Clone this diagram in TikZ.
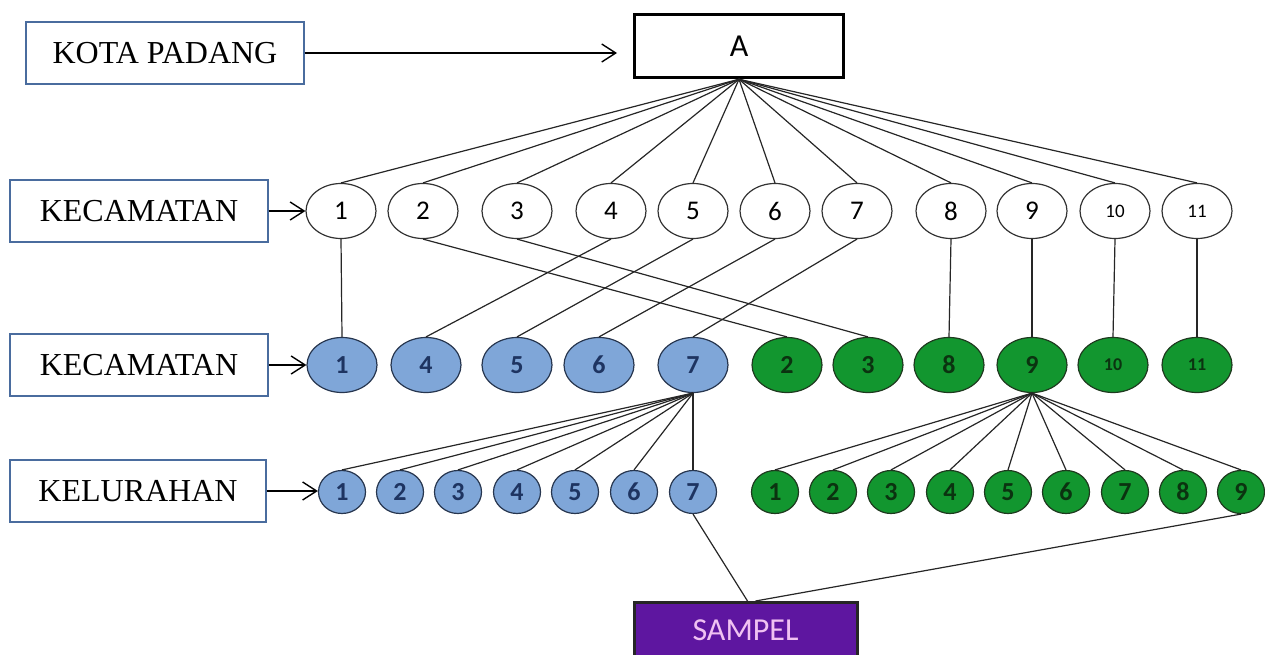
\documentclass[tikz,border=0pt]{standalone}
\usepackage{fontspec}
\setmainfont{Liberation Serif}
\newfontfamily\calfont{Carlito}
\usetikzlibrary{shapes.geometric,arrows.meta}
\definecolor{labelframe}{HTML}{4A6C9E}
\definecolor{bluefill}{HTML}{7FA6D8}
\definecolor{bluetext}{HTML}{1E3461}
\definecolor{blueline}{HTML}{27364F}
\definecolor{greenfill}{HTML}{12962F}
\definecolor{greentext}{HTML}{0B3310}
\definecolor{greenline}{HTML}{1F3A1F}
\definecolor{sampelfill}{HTML}{5E16A0}
\definecolor{sampeltext}{HTML}{F0C2F2}
\tikzset{
  x=1pt, y=-1pt,
  labelbox/.style={draw=labelframe, line width=1.2pt, minimum width=258pt, minimum height=62pt,
    inner sep=0pt, font=\fontsize{32}{36}\selectfont},
  pointer/.style={line width=1.4pt, -{Straight Barb[length=14pt,width=18pt,line width=1.4pt]}},
  link/.style={line width=1.2pt, black!85},
  topnode/.style={ellipse, draw=black!80, line width=1.2pt, fill=white, minimum width=70pt,
    minimum height=55pt, inner sep=0pt, font=\calfont\fontsize{27}{29}\selectfont},
  smallnum/.style={font=\calfont\fontsize{19}{21}\selectfont},
  bluebig/.style={ellipse, draw=blueline, line width=1.2pt, fill=bluefill, minimum width=70pt,
    minimum height=55pt, inner sep=0pt, text=bluetext, font=\calfont\bfseries\fontsize{26}{28}\selectfont},
  greenbig/.style={ellipse, draw=greenline, line width=1.2pt, fill=greenfill, minimum width=70pt,
    minimum height=55pt, inner sep=0pt, text=greentext, font=\calfont\bfseries\fontsize{26}{28}\selectfont},
  bluesmall/.style={bluebig, minimum width=47pt, minimum height=43pt},
  greensmall/.style={greenbig, minimum width=47pt, minimum height=43pt},
}
\begin{document}
\begin{tikzpicture}
\useasboundingbox (0,0) rectangle (1265,655);

% side labels
\node[labelbox, minimum width=278pt] (kota) at (165,53) {KOTA PADANG};
\node[labelbox] (kec1) at (139,211) {KECAMATAN};
\node[labelbox] (kec2) at (139,365) {KECAMATAN};
\node[labelbox, minimum width=256pt] (kel) at (138,491) {KELURAHAN};

% root
\node[draw=black, line width=3.5pt, minimum width=209pt, minimum height=63pt, inner sep=0pt,
  font=\calfont\fontsize{32}{34}\selectfont] (A) at (739,46) {A};
\coordinate (Ain) at (617,53);

% first row of districts
\foreach \n/\x in {1/341,2/423,3/517,4/611,5/693,6/775,7/857,8/951,9/1032}
  \node[topnode] (t\n) at (\x,211) {\n};
\node[topnode, smallnum] (t10) at (1115,211) {10};
\node[topnode, smallnum] (t11) at (1197,211) {11};

% second row of districts
\foreach \n/\x in {1/342,4/426,5/517,6/599,7/693}
  \node[bluebig] (m\n) at (\x,365) {\n};
\foreach \n/\x in {2/787,3/868,8/949,9/1032}
  \node[greenbig] (m\n) at (\x,365) {\n};
\node[greenbig, font=\calfont\bfseries\fontsize{18}{20}\selectfont] (m10) at (1113,365) {10};
\node[greenbig, font=\calfont\bfseries\fontsize{18}{20}\selectfont] (m11) at (1197,365) {11};

% villages
\foreach \n/\x in {1/342,2/400,3/458,4/517,5/575,6/634,7/693}
  \node[bluesmall] (b\n) at (\x,492) {\n};
\foreach \n/\x in {1/775,2/833,3/891,4/950,5/1008,6/1066,7/1125,8/1183,9/1241}
  \node[greensmall] (g\n) at (\x,492) {\n};

% sample
\node[draw=black!85, line width=3pt, fill=sampelfill, minimum width=223pt, minimum height=62pt,
  inner sep=0pt, anchor=north] (sampel) at (745.5,601) {};
\node[text=sampeltext, font=\calfont\fontsize{32}{34}\selectfont] (sampeltxt) at (745.5,630) {SAMPEL};

% pointers
\draw[pointer] (kota.east) -- (Ain);
\draw[pointer] (kec1.east) -- (t1.west);
\draw[pointer] (kec2.east) -- (m1.west);
\draw[pointer] (kel.east) -- (kel.east -| b1.west);

% root to first row
\foreach \n in {1,...,11}
  \draw[link] (A.south) -- (t\n.north);

% first row to second row
\foreach \n in {1,...,11}
  \draw[link] (t\n.south) -- (m\n.north);

% second row to villages
\foreach \n in {1,...,7}
  \draw[link] (m7.south) -- (b\n.north);
\foreach \n in {1,...,9}
  \draw[link] (m9.south) -- (g\n.north);

% villages to sample
\draw[link] (b7.south) -- ([xshift=2pt]sampel.north);
\draw[link] (g9.south) -- ([xshift=10pt]sampel.north);
\end{tikzpicture}
\end{document}
